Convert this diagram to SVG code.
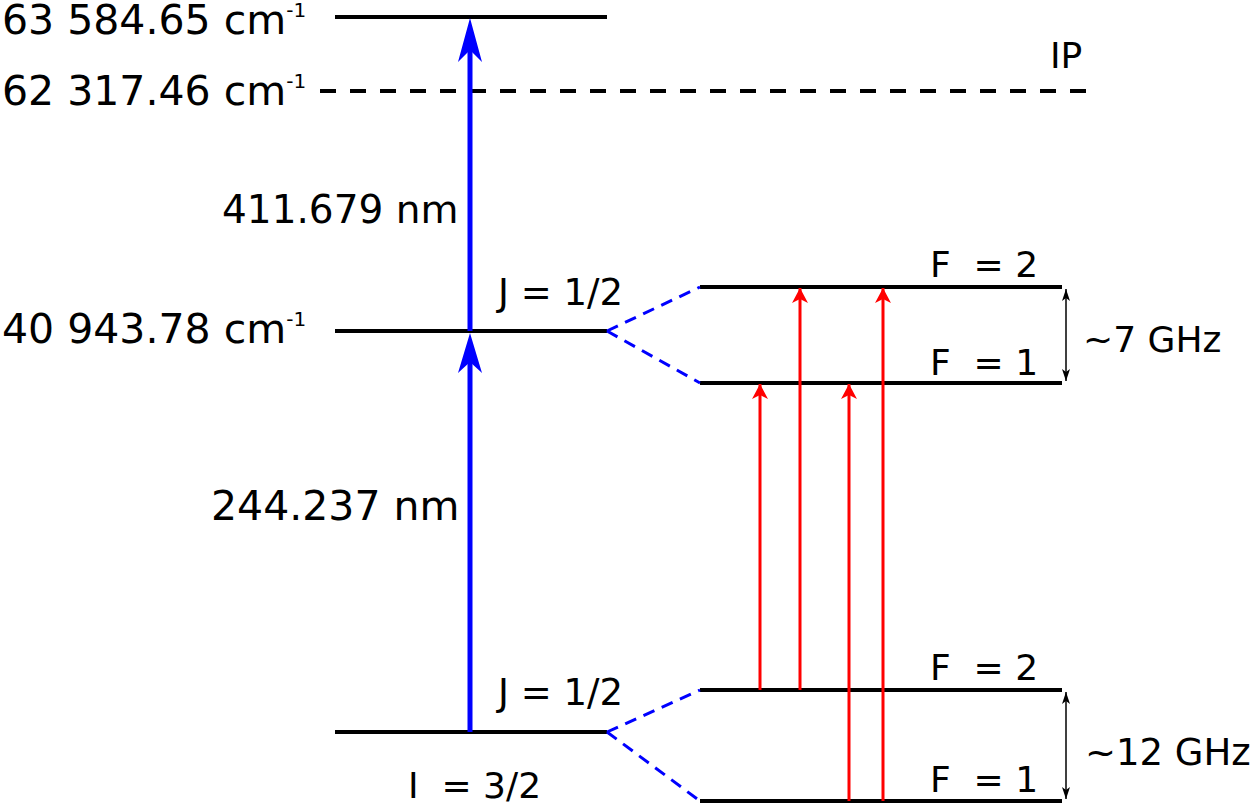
<svg xmlns="http://www.w3.org/2000/svg" width="1251" height="805" viewBox="0 0 1251 805" xml:space="preserve">
<style>
text{font-family:"DejaVu Sans",sans-serif;fill:#000;white-space:pre}
.big{font-size:41px}
.sup{font-size:20px}
.lbl{font-size:36px}
.jl{font-size:37px}
.nm{font-size:39px}
.lvl{stroke:#000;stroke-width:4;fill:none}
.ip{stroke:#000;stroke-width:4;stroke-dasharray:16 14;fill:none}
.split{stroke:#0000ff;stroke-width:3;stroke-dasharray:12 8;fill:none}
.blue{stroke:#0000ff;stroke-width:5;fill:none}
.red{stroke:#ff0000;stroke-width:3;fill:none}
.gap{stroke:#000;stroke-width:1.5;fill:none}
</style>
<defs>
<marker id="hBlue" markerUnits="userSpaceOnUse" viewBox="-46 -13 48 26" refX="0" refY="0" markerWidth="48" markerHeight="26" orient="auto">
<path d="M0,0 L-44,-12 L-32,0 L-44,12 Z" fill="#0000ff"/>
</marker>
<marker id="hRed" markerUnits="userSpaceOnUse" viewBox="-17 -9 19 18" refX="0" refY="0" markerWidth="19" markerHeight="18" orient="auto">
<path d="M0,0 L-15,-8 L-11,0 L-15,8 Z" fill="#ff0000"/>
</marker>
<marker id="hBlk" markerUnits="userSpaceOnUse" viewBox="-13 -5 14 10" refX="0" refY="0" markerWidth="14" markerHeight="10" orient="auto-start-reverse">
<path d="M0,0 L-12,-4 L-9,0 L-12,4 Z" fill="#000"/>
</marker>
</defs>

<g id="level-top">
<line class="lvl" x1="335" y1="17" x2="607" y2="17"/>
<text class="big" x="2" y="34">63 584.65 cm<tspan class="sup" dy="-17">-1</tspan></text>
</g>

<g id="level-ip">
<line class="ip" x1="320" y1="91" x2="1090" y2="91"/>
<text class="big" x="2" y="105">62 317.46 cm<tspan class="sup" dy="-17">-1</tspan></text>
<text class="lbl" x="1050" y="68">IP</text>
</g>

<g id="level-mid">
<line class="lvl" x1="335" y1="331" x2="607" y2="331"/>
<text class="big" x="2" y="343">40 943.78 cm<tspan class="sup" dy="-17">-1</tspan></text>
<text class="jl" x="498" y="305">J = 1/2</text>
</g>

<g id="level-mid-F2">
<line class="lvl" x1="700" y1="287" x2="1062" y2="287"/>
<text class="lbl" x="930" y="277">F  = 2</text>
</g>

<g id="level-mid-F1">
<line class="lvl" x1="700" y1="383" x2="1062" y2="383"/>
<text class="lbl" x="930" y="375">F  = 1</text>
</g>

<g id="level-ground">
<line class="lvl" x1="335" y1="732" x2="607" y2="732"/>
<text class="jl" x="498" y="705">J = 1/2</text>
<text class="lbl" x="408" y="798">I  = 3/2</text>
</g>

<g id="level-ground-F2">
<line class="lvl" x1="700" y1="690" x2="1062" y2="690"/>
<text class="lbl" x="930" y="680">F  = 2</text>
</g>

<g id="level-ground-F1">
<line class="lvl" x1="700" y1="801" x2="1062" y2="801"/>
<text class="lbl" x="930" y="792">F  = 1</text>
</g>

<g id="connectors">
<line class="blue" x1="470" y1="732" x2="470" y2="345" />
<path d="M470,333 L458,373 L470,362 L482,373 Z" fill="#0000ff"/>
<line class="blue" x1="470" y1="331" x2="470" y2="30" />
<path d="M470,18 L458,62 L470,50 L482,62 Z" fill="#0000ff"/>
<text class="nm" x="222" y="223">411.679 nm</text>
<text class="nm" x="211" y="520" style="font-size:41px">244.237 nm</text>

<line class="split" x1="607" y1="331" x2="700" y2="287"/>
<line class="split" x1="607" y1="331" x2="700" y2="383"/>
<line class="split" x1="607" y1="732" x2="700" y2="690"/>
<line class="split" x1="607" y1="732" x2="700" y2="801"/>

<line class="red" x1="760" y1="690" x2="760" y2="384" marker-end="url(#hRed)"/>
<line class="red" x1="800" y1="690" x2="800" y2="288" marker-end="url(#hRed)"/>
<line class="red" x1="849" y1="801" x2="849" y2="384" marker-end="url(#hRed)"/>
<line class="red" x1="883" y1="801" x2="883" y2="288" marker-end="url(#hRed)"/>

<line class="gap" x1="1066" y1="289" x2="1066" y2="381" marker-start="url(#hBlk)" marker-end="url(#hBlk)"/>
<text class="lbl" x="1083" y="352">~7 GHz</text>
<line class="gap" x1="1066" y1="692" x2="1066" y2="799" marker-start="url(#hBlk)" marker-end="url(#hBlk)"/>
<text class="lbl" x="1085" y="765" style="font-size:37px">~12 GHz</text>
</g>
</svg>
